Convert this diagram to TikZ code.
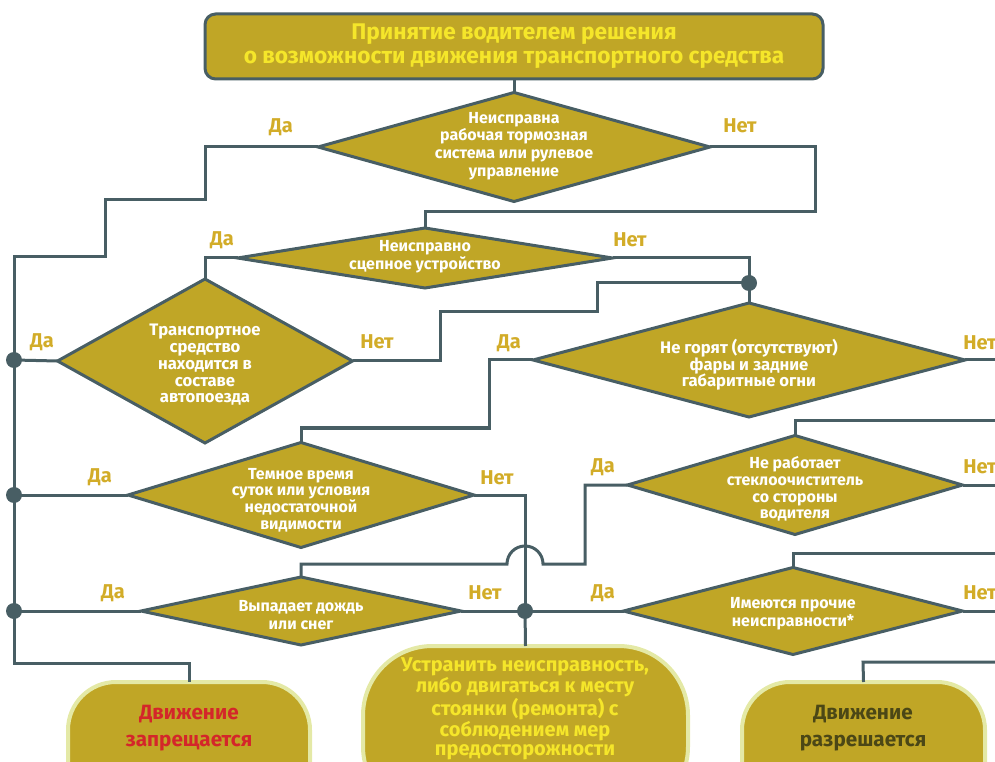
\documentclass[tikz,border=0pt]{standalone}
\usepackage{fontspec}
\setmainfont{Fira Sans}
\usetikzlibrary{shapes.geometric}
\definecolor{cfill}{HTML}{C0A626}
\definecolor{cline}{HTML}{485E64}
\definecolor{clab}{HTML}{D2AC28}
\definecolor{ctitle}{HTML}{F5E62A}
\definecolor{cred}{HTML}{D4262A}
\definecolor{cdark}{HTML}{4B4716}
\definecolor{cglow}{HTML}{E4E9A6}
\tikzset{
  conn/.style={draw=cline, line width=2.25pt},
  dia/.style={diamond, draw=cline, fill=cfill, line width=2.25pt, inner sep=0pt, outer sep=0pt},
  dtxt/.style={text=white, font=\bfseries\fontsize{12}{13.2}\selectfont, align=center, inner sep=0pt},
  lab/.style={text=clab, font=\bfseries\fontsize{15}{16}\selectfont, inner sep=0pt},
  jdot/.style={circle, fill=cline, minimum size=12pt, inner sep=0pt, outer sep=0pt},
  term/.style={rectangle, draw=cglow, fill=cfill, line width=3pt, inner sep=0pt, outer sep=0pt},
  ttxt/.style={font=\bfseries\fontsize{15.5}{20}\selectfont, align=center, inner sep=0pt},
}
\begin{document}
\begin{tikzpicture}[x=0.75pt,y=-0.75pt]
\useasboundingbox (0,0) rectangle (995,762);
\clip (0,0) rectangle (995,762);

% title
\node[rectangle, draw=cline, fill=cfill, line width=2.25pt, rounded corners=8pt,
      minimum width=463.5pt, minimum height=48.75pt, outer sep=0pt,
      text=ctitle, font=\bfseries\fontsize{17}{18}\selectfont, align=center]
      (title) at (514,46.5) {Принятие водителем решения\\о возможности движения транспортного средства};

% decisions
\node[dia, minimum width=294pt, minimum height=81.75pt] (d1) at (514,147) {};
\node[dtxt] (d1t) at (514,146) {Неисправна\\рабочая тормозная\\система или рулевое\\управление};
\node[dia, minimum width=281.25pt, minimum height=45pt] (d2) at (425,258) {};
\node[dtxt] (d2t) at (425,257) {Неисправно\\сцепное устройство};
\node[dia, minimum width=221.25pt, minimum height=123pt] (d3) at (205,361) {};
\node[dtxt, font=\bfseries\fontsize{12.5}{12.6}\selectfont] (d3t) at (205,365) {Транспортное\\средство\\находится в\\составе\\автопоезда};
\node[dia, minimum width=324pt, minimum height=85.5pt] (d4) at (749,360) {};
\node[dtxt, font=\bfseries\fontsize{12.5}{12.5}\selectfont] (d4t) at (749,365) {Не горят (отсутствуют)\\фары и задние\\габаритные огни};
\node[dia, minimum width=259.5pt, minimum height=78.75pt] (d5) at (301,495) {};
\node[dtxt, font=\bfseries\fontsize{12}{12.4}\selectfont] (d5t) at (301,500) {Темное время\\суток или условия\\недостаточной\\видимости};
\node[dia, minimum width=251.25pt, minimum height=74.25pt] (d6) at (795,485) {};
\node[dtxt, font=\bfseries\fontsize{12}{12.4}\selectfont] (d6t) at (795,489) {Не работает\\стеклоочиститель\\со стороны\\водителя};
\node[dia, minimum width=240pt, minimum height=51pt] (d7) at (301,611) {};
\node[dtxt] (d7t) at (301,615) {Выпадает дождь\\или снег};
\node[dia, minimum width=254.25pt, minimum height=65.25pt] (d8) at (793,611) {};
\node[dtxt] (d8t) at (793,614) {Имеются прочие\\неисправности*};

% terminals
\node[term, rounded corners=36pt, minimum width=181.5pt, minimum height=112.5pt] (t1) at (189,757) {};
\node[ttxt, text=cred] (t1t) at (189,728) {Движение\\запрещается};
\node[term, rounded corners=52pt, minimum width=243.75pt, minimum height=127.5pt] (t2) at (525.5,731) {};
\node[ttxt, text=ctitle, font=\bfseries\fontsize{15}{14.4}\selectfont] (t2t) at (525,709) {Устранить неисправность,\\либо двигаться к месту\\стоянки (ремонта) с\\соблюдением мер\\предосторожности};
\node[term, rounded corners=36pt, minimum width=182.25pt, minimum height=112.5pt] (t3) at (863.5,757) {};
\node[ttxt, text=cdark] (t3t) at (863,728) {Движение\\разрешается};

% junction dots
\node[jdot] (dA) at (14,360) {};
\node[jdot] (dB) at (14,495) {};
\node[jdot] (dC) at (14,611) {};
\node[jdot] (dD) at (749,283) {};
\node[jdot] (dE) at (525,611) {};

% free ends beyond the right edge
\coordinate (e1) at (1000,360);
\coordinate (e2) at (1000,421);
\coordinate (e3) at (1000,485);
\coordinate (e4) at (1000,553);
\coordinate (e5) at (1000,611);
\coordinate (e6) at (1000,662);

% connectors
\draw[conn] (title.south) -- (d1.north);
\draw[conn] (d1.west) -- (205,147) -- (205,200) -- (105,200) -- (105,257) -- (14,257) -- (dA.center) -- (dB.center) -- (dC.center) -- (14,663) -- (189,663) -- (t1.north);
\draw[conn] (d1.east) -- (815,147) -- (815,212) -- (425,212) -- (d2.north);
\draw[conn] (d2.west) -- (205,258) -- (d3.north);
\draw[conn] (d2.east) -- (749,258) -- (dD.center);
\draw[conn] (d3.east) -- (440,361) -- (440,312) -- (597,312) -- (597,283) -- (dD.center);
\draw[conn] (dD.center) -- (d4.north);
\draw[conn] (d3.west) -- (dA.center);
\draw[conn] (d4.west) -- (489,360) -- (489,428) -- (301,428) -- (d5.north);
\draw[conn] (d4.east) -- (e1);
\draw[conn] (d5.west) -- (dB.center);
\draw[conn] (d5.east) -- (525,495) -- (dE.center);
\draw[conn] (d6.north) -- (795,421) -- (e2);
\draw[conn] (d6.east) -- (e3);
\draw[conn] (d6.west) -- (585,485) -- (585,564) -- (543,564) .. controls (543,554) and (535,546) .. (525,546) .. controls (515,546) and (507,554) .. (507,564) -- (301,564) -- (d7.north);
\draw[conn] (d7.west) -- (dC.center);
\draw[conn] (d7.east) -- (dE.center);
\draw[conn] (dE.center) -- (d8.west);
\draw[conn] (dE.center) -- (t2.north);
\draw[conn] (d8.north) -- (793,553) -- (e4);
\draw[conn] (d8.east) -- (e5);
\draw[conn] (t3.north) -- (863,662) -- (e6);

% labels
\node[lab] (y1) at (281,127) {Да};
\node[lab] (n1) at (740,126) {Нет};
\node[lab] (y2) at (222,240) {Да};
\node[lab] (n2) at (630,240) {Нет};
\node[lab] (y3) at (42,342) {Да};
\node[lab] (n3) at (377,342) {Нет};
\node[lab] (y4) at (509,343) {Да};
\node[lab, anchor=west] (n4) at (963,343) {Нет};
\node[lab] (y5) at (100,477) {Да};
\node[lab] (n5) at (497,478) {Нет};
\node[lab] (y6) at (603,467) {Да};
\node[lab, anchor=west] (n6) at (963,467) {Нет};
\node[lab] (y7) at (113,593) {Да};
\node[lab] (n7) at (485,593) {Нет};
\node[lab] (y8) at (603,593) {Да};
\node[lab, anchor=west] (n8) at (963,593) {Нет};
\end{tikzpicture}
\end{document}
